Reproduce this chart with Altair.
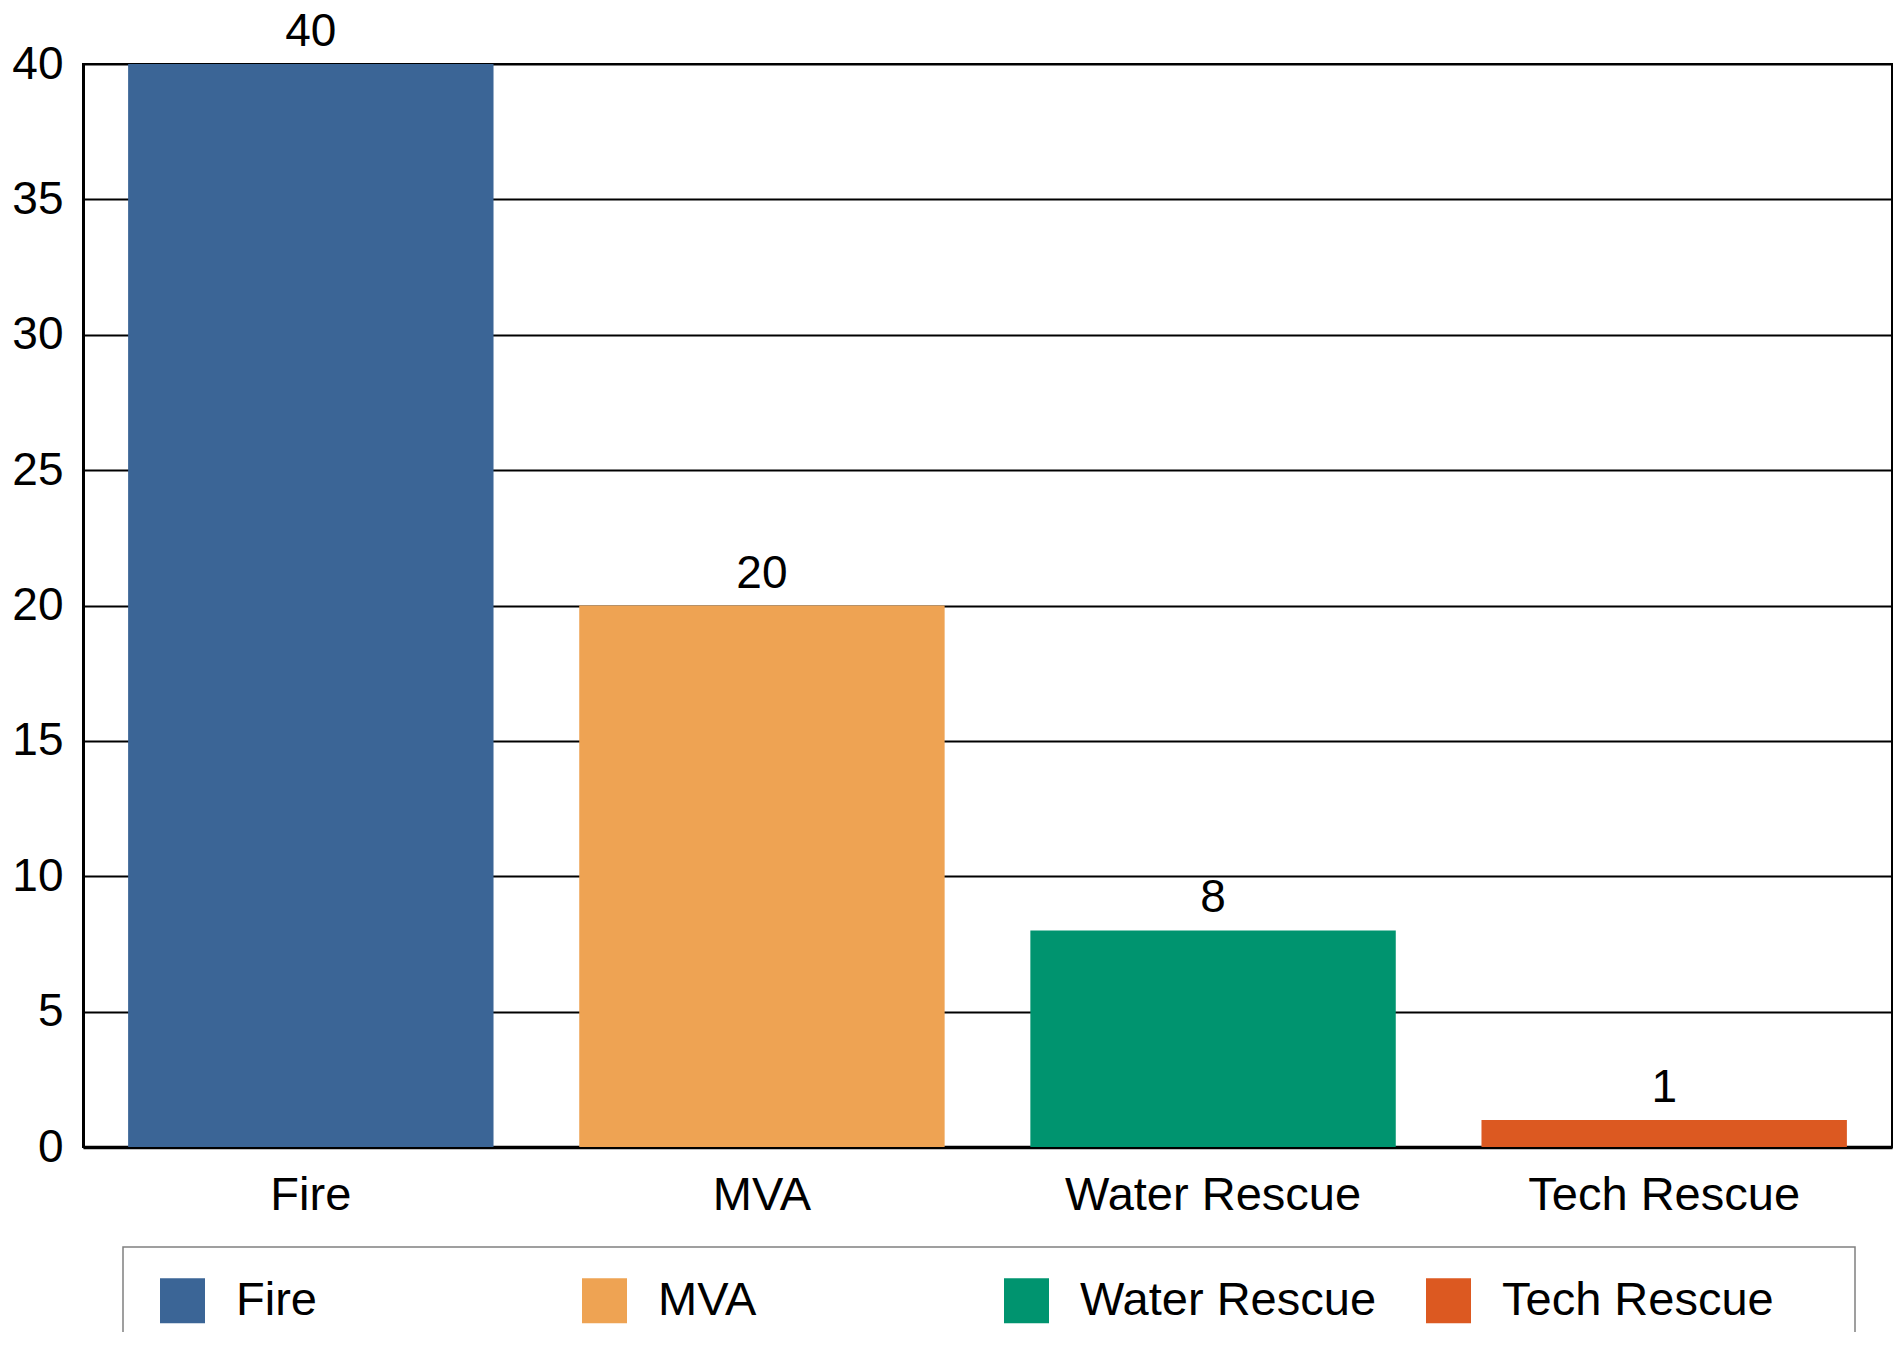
import altair as alt
import pandas as pd

categories = ["Fire", "MVA", "Water Rescue", "Tech Rescue"]
values = [40, 20, 8, 1]
colors = ["#3B6596", "#EEA353", "#00946F", "#DC5921"]
y_ticks = [0, 5, 10, 15, 20, 25, 30, 35, 40]

df = pd.DataFrame({"category": categories, "value": values})
FONT = "Liberation Sans"

x_enc = alt.X(
    "category:N", sort=categories, title=None,
    scale=alt.Scale(paddingInner=0.19, paddingOuter=0.1),
    axis=alt.Axis(labelAngle=0, labelFontSize=47, labelFont=FONT, labelColor="black",
                  labelLimit=800, ticks=False, tickSize=0, labelPadding=25,
                  domainColor="black", domainWidth=3.5, grid=False),
)
y_enc = alt.Y(
    "value:Q", title=None, scale=alt.Scale(domain=[0, 40], nice=False),
    axis=alt.Axis(values=y_ticks, labelFontSize=46, labelFont=FONT, labelColor="black",
                  ticks=False, tickSize=0, labelPadding=20, domainColor="black",
                  domainWidth=3, grid=True, gridColor="black", gridWidth=2),
)

bars = alt.Chart(df).mark_bar().encode(
    x=x_enc,
    y=y_enc,
    color=alt.Color(
        "category:N", sort=categories,
        scale=alt.Scale(domain=categories, range=colors),
        legend=alt.Legend(
            title=" ", titleOrient="right", titleFontSize=1, titlePadding=51,
            orient="none", legendX=40, legendY=1183,
            direction="horizontal", columns=4, gridAlign="all",
            symbolType="square", symbolSize=2025, symbolStrokeWidth=0, symbolOpacity=1,
            symbolOffset=6,
            labelFontSize=47, labelFont=FONT, labelColor="black", labelOffset=30,
            labelLimit=800, columnPadding=42, padding=30, strokeColor="#808080",
        ),
    ),
)

labels = alt.Chart(df).mark_text(
    baseline="alphabetic", dy=-18, fontSize=46, font=FONT, color="black"
).encode(
    x=alt.X("category:N", sort=categories),
    y=alt.Y("value:Q"),
    text=alt.Text("value:Q"),
)

chart = (
    alt.layer(bars, labels)
    .properties(
        width=1809, height=1083,
        autosize=alt.AutoSizeParams(type="none"),
        padding={"left": 75, "top": 56, "right": 4, "bottom": 185},
    )
    .configure_view(stroke="black", strokeWidth=2)
    .configure_legend(strokeWidth=1.5)
)

chart.save("out.html", embed_options={"renderer": "svg", "actions": False})
